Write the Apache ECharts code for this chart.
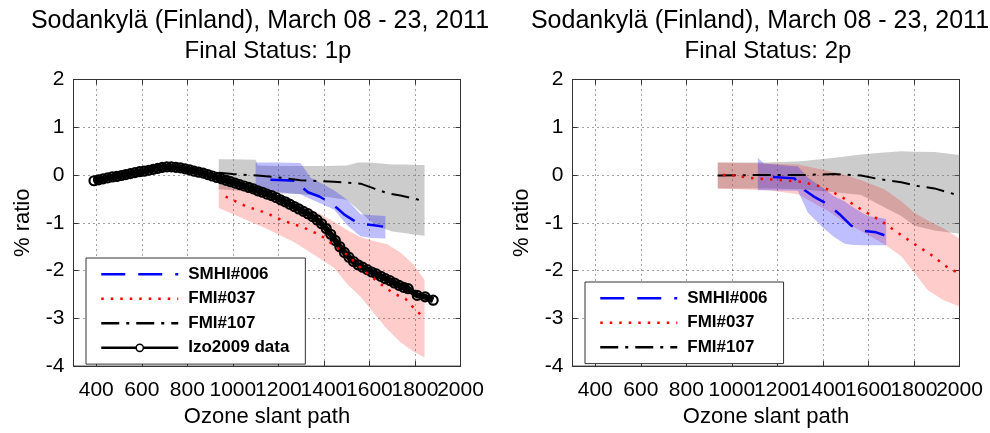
<!DOCTYPE html>
<html><head><meta charset="utf-8">
<script src="https://cdn.jsdelivr.net/npm/echarts@6/dist/echarts.min.js"></script>
<style>html,body{margin:0;padding:0;background:#fff}#c{width:990px;height:433px}</style>
</head><body><div id="c"></div>
<script>
// ---------- ticks and labels ----------
const xTicks = [400, 600, 800, 1000, 1200, 1400, 1600, 1800, 2000];
const xLabelsA = [400, 800, 1200, 1600, 2000];   // drawn on one axis
const xLabelsB = [600, 1000, 1400, 1800];        // drawn on a twin axis (labels touch, as in the reference)
const titleLine1 = 'Sodankylä (Finland), March 08 - 23, 2011';
const titleLeft2 = 'Final Status: 1p';
const titleRight2 = 'Final Status: 2p';
const legendLeftNames = ['SMHI#006', 'FMI#037', 'FMI#107', 'Izo2009 data'];
const legendRightNames = ['SMHI#006', 'FMI#037', 'FMI#107'];

// ---------- LEFT PANEL (1p) ----------
const izoX = [390,410,430,450,470,490,510,530,550,570,590,610,630,650,670,690,710,730,750,770,790,810,830,850,870,890,910,930,950,970,990,1010,1030,1050,1070,1090,1110,1130,1150,1170,1190,1210,1230,1250,1270,1290,1310,1330,1350,1370,1390,1410,1430,1450,1470,1490,1510,1530,1550,1570,1590,1610,1630,1650,1670,1690,1710,1730,1750,1770,1810,1845,1880];
const izoY = [-0.12,-0.10,-0.08,-0.06,-0.04,-0.03,-0.01,0.01,0.03,0.05,0.07,0.08,0.10,0.12,0.14,0.16,0.17,0.17,0.16,0.15,0.13,0.11,0.08,0.06,0.04,0.01,-0.02,-0.05,-0.08,-0.11,-0.14,-0.17,-0.20,-0.23,-0.26,-0.29,-0.33,-0.36,-0.40,-0.43,-0.47,-0.52,-0.56,-0.61,-0.66,-0.71,-0.76,-0.81,-0.87,-0.94,-1.02,-1.12,-1.24,-1.37,-1.50,-1.62,-1.72,-1.81,-1.88,-1.93,-1.98,-2.03,-2.07,-2.12,-2.17,-2.21,-2.26,-2.31,-2.35,-2.38,-2.52,-2.55,-2.62];

const l107BandX = [938,1000,1100,1110,1200,1300,1400,1500,1550,1600,1650,1700,1760,1800,1842];
const l107BandHi = [0.33,0.33,0.32,0.20,0.19,0.19,0.19,0.20,0.26,0.26,0.24,0.22,0.22,0.21,0.21];
const l107BandLo = [-0.30,-0.32,-0.35,-0.36,-0.38,-0.40,-0.45,-0.52,-0.72,-0.95,-1.10,-1.18,-1.22,-1.25,-1.27];
const l107X = [938,1000,1107,1200,1297,1444,1561,1619,1678,1736,1795,1838];
const l107Y = [0.05,0.02,-0.01,-0.05,-0.11,-0.14,-0.18,-0.28,-0.38,-0.43,-0.49,-0.55];

const l006BandX = [1100,1200,1297,1341,1444,1502,1561,1610,1670];
const l006BandHi = [0.26,0.26,0.25,-0.05,-0.32,-0.52,-0.82,-0.84,-0.86];
const l006BandLo = [-0.32,-0.36,-0.40,-0.50,-0.72,-1.05,-1.28,-1.32,-1.33];
const l006X = [1165,1230,1285,1310,1330,1380,1420,1460,1490,1530,1575,1620,1660];
const l006Y = [-0.10,-0.11,-0.12,-0.28,-0.36,-0.45,-0.56,-0.70,-0.83,-0.95,-1.03,-1.05,-1.08];

const l037BandX = [938,1034,1151,1268,1370,1444,1502,1561,1619,1678,1736,1795,1842];
const l037BandHi = [-0.20,-0.30,-0.42,-0.58,-0.78,-0.98,-1.15,-1.30,-1.38,-1.45,-1.62,-1.88,-2.20];
const l037BandLo = [-0.69,-0.89,-1.13,-1.40,-1.71,-1.94,-2.28,-2.55,-2.89,-3.23,-3.50,-3.70,-3.82];
const l037X = [968,1056,1144,1224,1312,1385,1443,1502,1570,1649,1707,1758,1788,1824];
const l037Y = [-0.45,-0.65,-0.79,-0.96,-1.10,-1.26,-1.47,-1.67,-1.98,-2.28,-2.48,-2.59,-2.75,-2.92];

// ---------- RIGHT PANEL (2p) ----------
const r107BandX = [938,1158,1304,1451,1568,1640,1744,1802,1890,2000];
const r107BandHi = [0.26,0.26,0.29,0.36,0.43,0.46,0.50,0.49,0.48,0.42];
const r107BandLo = [-0.28,-0.28,-0.30,-0.36,-0.42,-0.60,-0.86,-1.06,-1.16,-1.23];
const r107X = [938,1100,1300,1451,1568,1641,1744,1817,1890,2000];
const r107Y = [-0.01,0.00,0.00,0.02,-0.01,-0.08,-0.15,-0.23,-0.28,-0.43];

const r037BandX = [938,1158,1290,1421,1500,1568,1670,1744,1802,1861,1930,2000];
const r037BandHi = [0.26,0.24,0.22,0.09,0.00,-0.11,-0.30,-0.55,-0.79,-0.95,-1.12,-1.33];
const r037BandLo = [-0.28,-0.32,-0.40,-0.75,-1.00,-1.17,-1.45,-1.70,-2.05,-2.41,-2.62,-2.75];
const r037X = [960,997,1099,1201,1304,1400,1480,1568,1656,1714,1788,1875,1949,1990];
const r037Y = [0.00,0.00,-0.07,-0.10,-0.14,-0.25,-0.45,-0.72,-0.96,-1.16,-1.40,-1.67,-1.94,-2.04];

const r006BandX = [1114,1140,1290,1334,1407,1451,1495,1524,1568,1597,1678];
const r006BandHi = [0.36,0.24,0.18,-0.05,-0.30,-0.45,-0.55,-0.65,-0.78,-0.86,-0.92];
const r006BandLo = [-0.32,-0.32,-0.33,-0.79,-1.13,-1.30,-1.44,-1.46,-1.47,-1.47,-1.47];
const r006X = [1180,1275,1300,1320,1360,1414,1473,1524,1568,1634,1670];
const r006Y = [-0.04,-0.07,-0.22,-0.32,-0.45,-0.59,-0.82,-1.06,-1.16,-1.20,-1.26];

// ---------- helpers ----------
const FONT = 'Liberation Sans';
const zip = (xs, ys) => xs.map((x, i) => [x, ys[i]]);

function band(xi, yi, xs, hi, lo, fill) {
  return {
    type: 'custom', xAxisIndex: xi, yAxisIndex: yi, z: 1, silent: true,
    data: [[xs[0], hi[0]]],
    renderItem: function (params, api) {
      const pts = [];
      for (let i = 0; i < xs.length; i++) pts.push(api.coord([xs[i], hi[i]]));
      for (let i = xs.length - 1; i >= 0; i--) pts.push(api.coord([xs[i], lo[i]]));
      return { type: 'polygon', shape: { points: pts }, style: { fill: fill } };
    }
  };
}
const STY = {
  'SMHI#006': { color: '#0000ff', width: 2.5, type: [24, 13] },
  'FMI#037': { color: '#ff0000', width: 2.5, type: [2.5, 7] },
  'FMI#107': { color: '#000000', width: 2, type: [18, 7, 3, 7] }
};
function line(name, xi, yi, xs, ys, z) {
  return {
    type: 'line', name: name, xAxisIndex: xi, yAxisIndex: yi, z: z,
    data: zip(xs, ys), symbol: 'none',
    lineStyle: { color: STY[name].color, width: STY[name].width, type: STY[name].type },
    itemStyle: { color: STY[name].color }
  };
}
const GRAY = 'rgba(128,128,128,0.4)', RED = 'rgba(255,0,0,0.2)', BLUE = 'rgba(0,0,255,0.25)';

const AX = '#333';
const labelStyle = { fontSize: 21, fontFamily: FONT, color: '#000', margin: 14,
  hideOverlap: false, showMinLabel: true, showMaxLabel: true, formatter: v => String(v) };
function xAxes(grid) {
  return [
    { gridIndex: grid, type: 'value', min: 300, max: 2000, position: 'bottom',
      name: 'Ozone slant path', nameLocation: 'middle', nameGap: 35,
      nameTextStyle: { fontSize: 22, fontFamily: FONT, color: '#000' },
      axisLine: { show: true, onZero: false, lineStyle: { color: AX } },
      axisTick: { show: true, inside: true, length: 5, customValues: xTicks, lineStyle: { color: AX } },
      axisLabel: Object.assign({ customValues: xLabelsA }, labelStyle),
      splitLine: { show: true, lineStyle: { color: '#444', type: [1, 4], width: 1 } } },
    { gridIndex: grid, type: 'value', min: 300, max: 2000, position: 'bottom', offset: 0,
      axisLine: { show: false, onZero: false },
      axisTick: { show: false, customValues: xLabelsB },
      axisLabel: Object.assign({ customValues: xLabelsB }, labelStyle),
      splitLine: { show: false } },
    { gridIndex: grid, type: 'value', min: 300, max: 2000, position: 'top',
      axisLine: { show: true, onZero: false, lineStyle: { color: AX } },
      axisTick: { show: true, inside: true, length: 5, customValues: xTicks, lineStyle: { color: AX } },
      axisLabel: { show: false }, splitLine: { show: false } }
  ];
}
function yAxes(grid) {
  return [
    { gridIndex: grid, type: 'value', min: -4, max: 2, interval: 1, position: 'left',
      name: '% ratio', nameLocation: 'middle', nameGap: 40, nameRotate: 90,
      nameTextStyle: { fontSize: 22, fontFamily: FONT, color: '#000' },
      axisLine: { show: true, onZero: false, lineStyle: { color: AX } },
      axisTick: { show: true, inside: true, length: 5, lineStyle: { color: AX } },
      axisLabel: { fontSize: 21, fontFamily: FONT, color: '#000', margin: 9 },
      splitLine: { show: true, lineStyle: { color: '#444', type: [1, 4], width: 1 } } },
    { gridIndex: grid, type: 'value', min: -4, max: 2, interval: 1, position: 'right',
      axisLine: { show: true, onZero: false, lineStyle: { color: AX } },
      axisTick: { show: true, inside: true, length: 5, lineStyle: { color: AX } },
      axisLabel: { show: false }, splitLine: { show: false } }
  ];
}
function legendData(names) {
  return names.map(n => n === 'Izo2009 data' ? { name: n, itemStyle: { color: '#fff', borderColor: '#000', borderWidth: 1.5 } } :
    { name: n, itemStyle: { color: 'rgba(0,0,0,0)', borderWidth: 0, opacity: 0 } });
}
function legend(names, left, top) {
  return {
    data: legendData(names), left: left, top: top, orient: 'vertical',
    itemWidth: 77, itemHeight: 9, itemGap: 4.5,
    padding: [6.3, 16, 6.3, 14],
    backgroundColor: '#fff', borderColor: '#333', borderWidth: 1, borderRadius: 0,
    selectedMode: false,
    lineStyle: { width: 2.5 },
    textStyle: { fontFamily: FONT, fontWeight: 'bold', fontSize: 17, lineHeight: 20, color: '#000', padding: [0, 0, 0, 5] }
  };
}
function titleItem(text, left, top, size) {
  return { text: text, left: left, top: top, textAlign: 'center', padding: 0,
    textStyle: { fontFamily: FONT, fontWeight: 'normal', fontSize: size, lineHeight: size, color: '#000' } };
}

const chart = echarts.init(document.getElementById('c'), null, { renderer: 'canvas' });
chart.setOption({
  animation: false,
  backgroundColor: '#fff',
  textStyle: { fontFamily: FONT },
  title: [
    titleItem(titleLine1, 260, 9, 25), titleItem(titleLeft2, 268, 39, 24),
    titleItem(titleLine1, 760, 9, 25), titleItem(titleRight2, 768, 39, 24)
  ],
  grid: [
    { left: 73.5, top: 79.5, width: 387, height: 295, show: true, borderColor: AX, borderWidth: 1, backgroundColor: 'transparent' },
    { left: 572.5, top: 79.5, width: 387, height: 295, show: true, borderColor: AX, borderWidth: 1, backgroundColor: 'transparent' }
  ],
  xAxis: xAxes(0).concat(xAxes(1)),
  yAxis: yAxes(0).concat(yAxes(1)),
  legend: [legend(legendLeftNames, 86, 258), legend(legendRightNames, 585, 282)],
  series: [
    band(0, 0, l107BandX, l107BandHi, l107BandLo, GRAY),
    band(0, 0, l037BandX, l037BandHi, l037BandLo, RED),
    band(0, 0, l006BandX, l006BandHi, l006BandLo, BLUE),
    line('SMHI#006', 0, 0, l006X, l006Y, 4),
    line('FMI#107', 0, 0, l107X, l107Y, 4),
    { type: 'line', name: 'Izo2009 data', xAxisIndex: 0, yAxisIndex: 0, z: 5,
      data: zip(izoX, izoY), symbol: 'circle', symbolSize: 9, showSymbol: true, showAllSymbol: true,
      lineStyle: { color: '#000', width: 6 },
      itemStyle: { color: 'rgba(255,255,255,0)', borderColor: '#000', borderWidth: 2.2 } },
    line('FMI#037', 0, 0, l037X, l037Y, 6),

    band(3, 2, r107BandX, r107BandHi, r107BandLo, GRAY),
    band(3, 2, r037BandX, r037BandHi, r037BandLo, RED),
    band(3, 2, r006BandX, r006BandHi, r006BandLo, BLUE),
    line('SMHI#006', 3, 2, r006X, r006Y, 4),
    line('FMI#107', 3, 2, r107X, r107Y, 4),
    line('FMI#037', 3, 2, r037X, r037Y, 6)
  ]
});
</script>
</body></html>
